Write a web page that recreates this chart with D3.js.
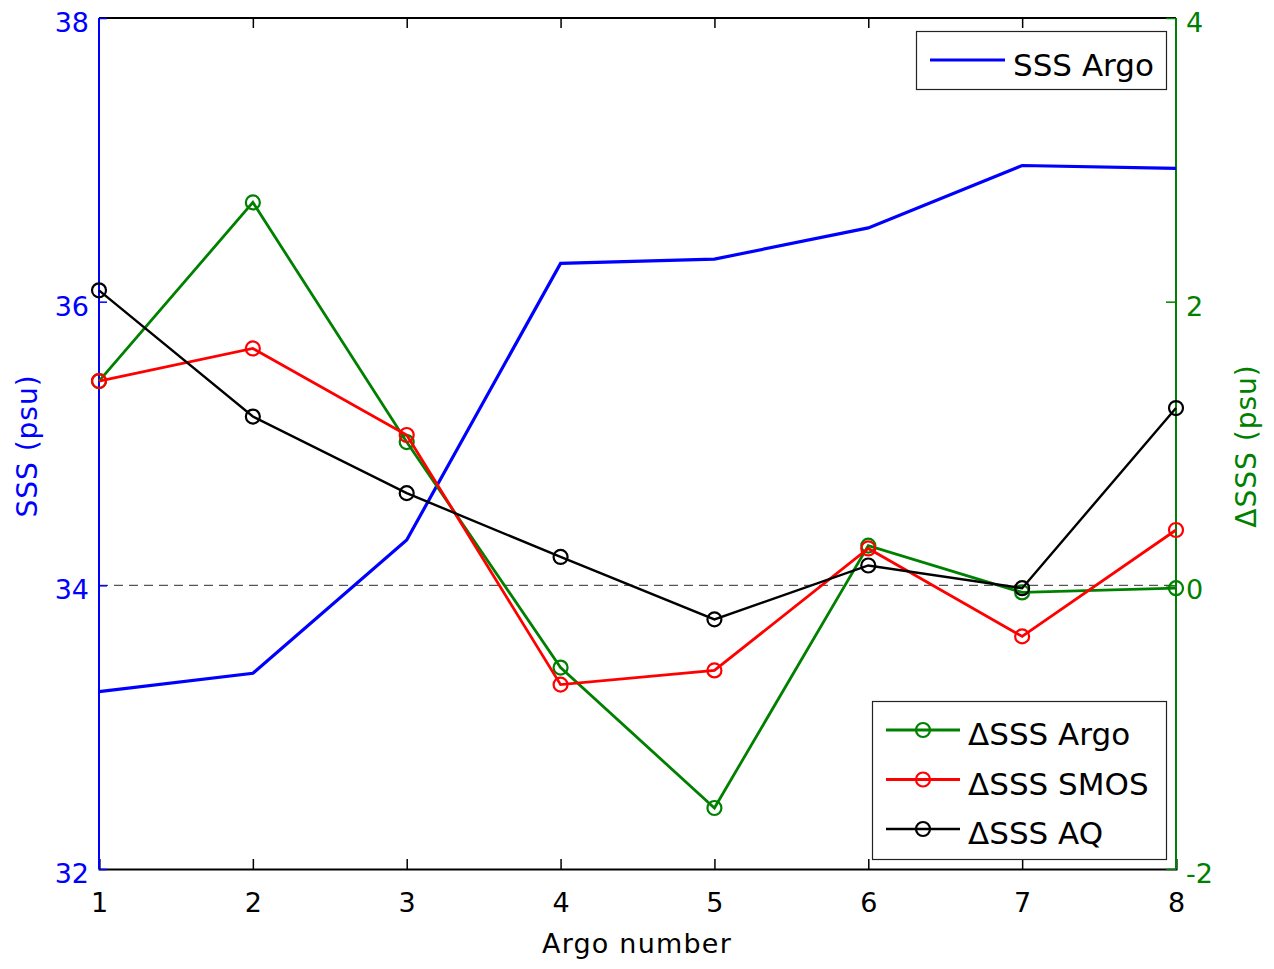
<!DOCTYPE html>
<html>
<head>
<meta charset="utf-8">
<script src="https://cdn.jsdelivr.net/npm/d3@7"></script>
<style>
html,body{margin:0;padding:0;background:#fff;}
svg{display:block;}
text{font-family:"DejaVu Sans",sans-serif;}
</style>
</head>
<body>
<svg id="chart" width="1274" height="969"></svg>
<script>
const argoNumbers = [1, 2, 3, 4, 5, 6, 7, 8];
const sssArgo   = [33.25, 33.38, 34.32, 36.27, 36.30, 36.52, 36.96, 36.94];
const dSssArgo  = [1.44, 2.70, 1.01, -0.58, -1.57, 0.28, -0.05, -0.02];
const dSssSmos  = [1.44, 1.67, 1.06, -0.70, -0.60, 0.26, -0.36, 0.39];
const dSssAq    = [2.08, 1.19, 0.65, 0.20, -0.24, 0.14, -0.02, 1.25];
const leftTicks  = [32, 34, 36, 38];
const rightTicks = [-2, 0, 2, 4];
const seriesNames = ["\u0394SSS Argo", "\u0394SSS SMOS", "\u0394SSS AQ"];

const svg = d3.select("#chart");
const L = 99, R = 1176, T = 18, B = 869;
const x  = d3.scaleLinear().domain([1, 8]).range([L, R]);
const yL = d3.scaleLinear().domain([32, 38]).range([B, T]);
const yR = d3.scaleLinear().domain([-2, 4]).range([B, T]);

const BLUE = "#0000ff", GREEN = "#008000", RED = "#ff0000", BLACK = "#000000";
const fmt = d => String(d);

// zero dashed line
svg.append("line").attr("x1", L).attr("x2", R).attr("y1", yR(0)).attr("y2", yR(0))
  .attr("stroke", "#555").attr("stroke-width", 1.2).attr("stroke-dasharray", "9,6");

// top & bottom axes
const xb = d3.axisBottom(x).tickValues(argoNumbers).tickSize(-10).tickPadding(24).tickFormat(fmt);
const gxb = svg.append("g").attr("transform", `translate(0,${B})`).call(xb);
gxb.select(".domain").attr("stroke", BLACK).attr("stroke-width", 2);
gxb.selectAll(".tick line").attr("stroke", BLACK).attr("stroke-width", 1.5);
gxb.selectAll(".tick text").attr("font-size", 27).attr("fill", BLACK).attr("font-family", "DejaVu Sans");

const xt = d3.axisTop(x).tickValues(argoNumbers.slice(1, -1)).tickSize(-10).tickFormat("");
const gxt = svg.append("g").attr("transform", `translate(0,${T})`).call(xt);
gxt.select(".domain").attr("stroke", BLACK).attr("stroke-width", 2).attr("d", `M${L},0H${R}`);
gxt.selectAll(".tick line").attr("stroke", BLACK).attr("stroke-width", 1.5);

// left axis
const ya = d3.axisLeft(yL).tickValues(leftTicks).tickSize(-8).tickPadding(10).tickFormat(fmt);
const gyl = svg.append("g").attr("transform", `translate(${L},0)`).call(ya);
gyl.select(".domain").attr("stroke", BLUE).attr("stroke-width", 2).attr("d", `M0,${T}V${B}`);
gyl.selectAll(".tick line").attr("stroke", BLUE).attr("stroke-width", 1.5);
gyl.selectAll(".tick text").attr("font-size", 27).attr("fill", BLUE).attr("font-family", "DejaVu Sans").attr("dy", "0.5em");

// right axis
const yb = d3.axisRight(yR).tickValues(rightTicks).tickSize(-10).tickPadding(10).tickFormat(fmt);
const gyr = svg.append("g").attr("transform", `translate(${R},0)`).call(yb);
gyr.select(".domain").attr("stroke", GREEN).attr("stroke-width", 2).attr("d", `M0,${T}V${B}`);
gyr.selectAll(".tick line").attr("stroke", GREEN).attr("stroke-width", 1.5);
gyr.selectAll(".tick text").attr("font-size", 27).attr("fill", GREEN).attr("font-family", "DejaVu Sans").attr("dy", "0.5em");

// axis labels
svg.append("text").attr("transform", `translate(37,446) rotate(-90)`).attr("text-anchor", "middle")
  .attr("font-size", 28).attr("fill", BLUE).attr("letter-spacing", 1).text("SSS (psu)");
svg.append("text").attr("transform", `translate(1256,446) rotate(-90)`).attr("text-anchor", "middle")
  .attr("font-size", 28).attr("fill", GREEN).attr("letter-spacing", 1).text("\u0394SSS (psu)");
svg.append("text").attr("x", 637).attr("y", 953).attr("text-anchor", "middle")
  .attr("font-size", 27).attr("fill", BLACK).attr("letter-spacing", 1.2).text("Argo number");

// lines
const lineL = d3.line().x((d, i) => x(argoNumbers[i])).y(d => yL(d));
const lineR = d3.line().x((d, i) => x(argoNumbers[i])).y(d => yR(d));

svg.append("path").datum(sssArgo).attr("d", lineL).attr("fill", "none")
  .attr("stroke", BLUE).attr("stroke-width", 3.2);

const rSeries = [
  {name: seriesNames[0], values: dSssArgo, color: GREEN, w: 2.8},
  {name: seriesNames[1], values: dSssSmos, color: RED, w: 2.8},
  {name: seriesNames[2], values: dSssAq, color: BLACK, w: 2.4}
];
rSeries.forEach(s => {
  svg.append("path").datum(s.values).attr("d", lineR).attr("fill", "none")
    .attr("stroke", s.color).attr("stroke-width", s.w);
  svg.append("g").selectAll("circle").data(s.values).join("circle")
    .attr("cx", (d, i) => x(argoNumbers[i])).attr("cy", d => yR(d)).attr("r", 7)
    .attr("fill", "none").attr("stroke", s.color).attr("stroke-width", 2.2);
});

// legend 1
const lg1 = svg.append("g");
lg1.append("rect").attr("x", 916.5).attr("y", 31.5).attr("width", 250).attr("height", 58)
  .attr("fill", "#fff").attr("stroke", "#222").attr("stroke-width", 1.2);
lg1.append("line").attr("x1", 930).attr("x2", 1005).attr("y1", 60).attr("y2", 60)
  .attr("stroke", BLUE).attr("stroke-width", 3.2);
lg1.append("text").attr("x", 1013).attr("y", 76).attr("font-size", 31).attr("fill", BLACK).text("SSS Argo");

// legend 2
const lg2 = svg.append("g");
lg2.append("rect").attr("x", 872.5).attr("y", 701.5).attr("width", 294).attr("height", 158)
  .attr("fill", "#fff").attr("stroke", "#222").attr("stroke-width", 1.2);
rSeries.forEach((s, i) => {
  const yy = 730 + i * 49.5;
  lg2.append("line").attr("x1", 886).attr("x2", 960).attr("y1", yy).attr("y2", yy)
    .attr("stroke", s.color).attr("stroke-width", s.w);
  lg2.append("circle").attr("cx", 923).attr("cy", yy).attr("r", 7)
    .attr("fill", "none").attr("stroke", s.color).attr("stroke-width", 2.2);
  lg2.append("text").attr("x", 968).attr("y", yy + 15).attr("font-size", 31).attr("fill", BLACK).text(s.name);
});
</script>
</body>
</html>
